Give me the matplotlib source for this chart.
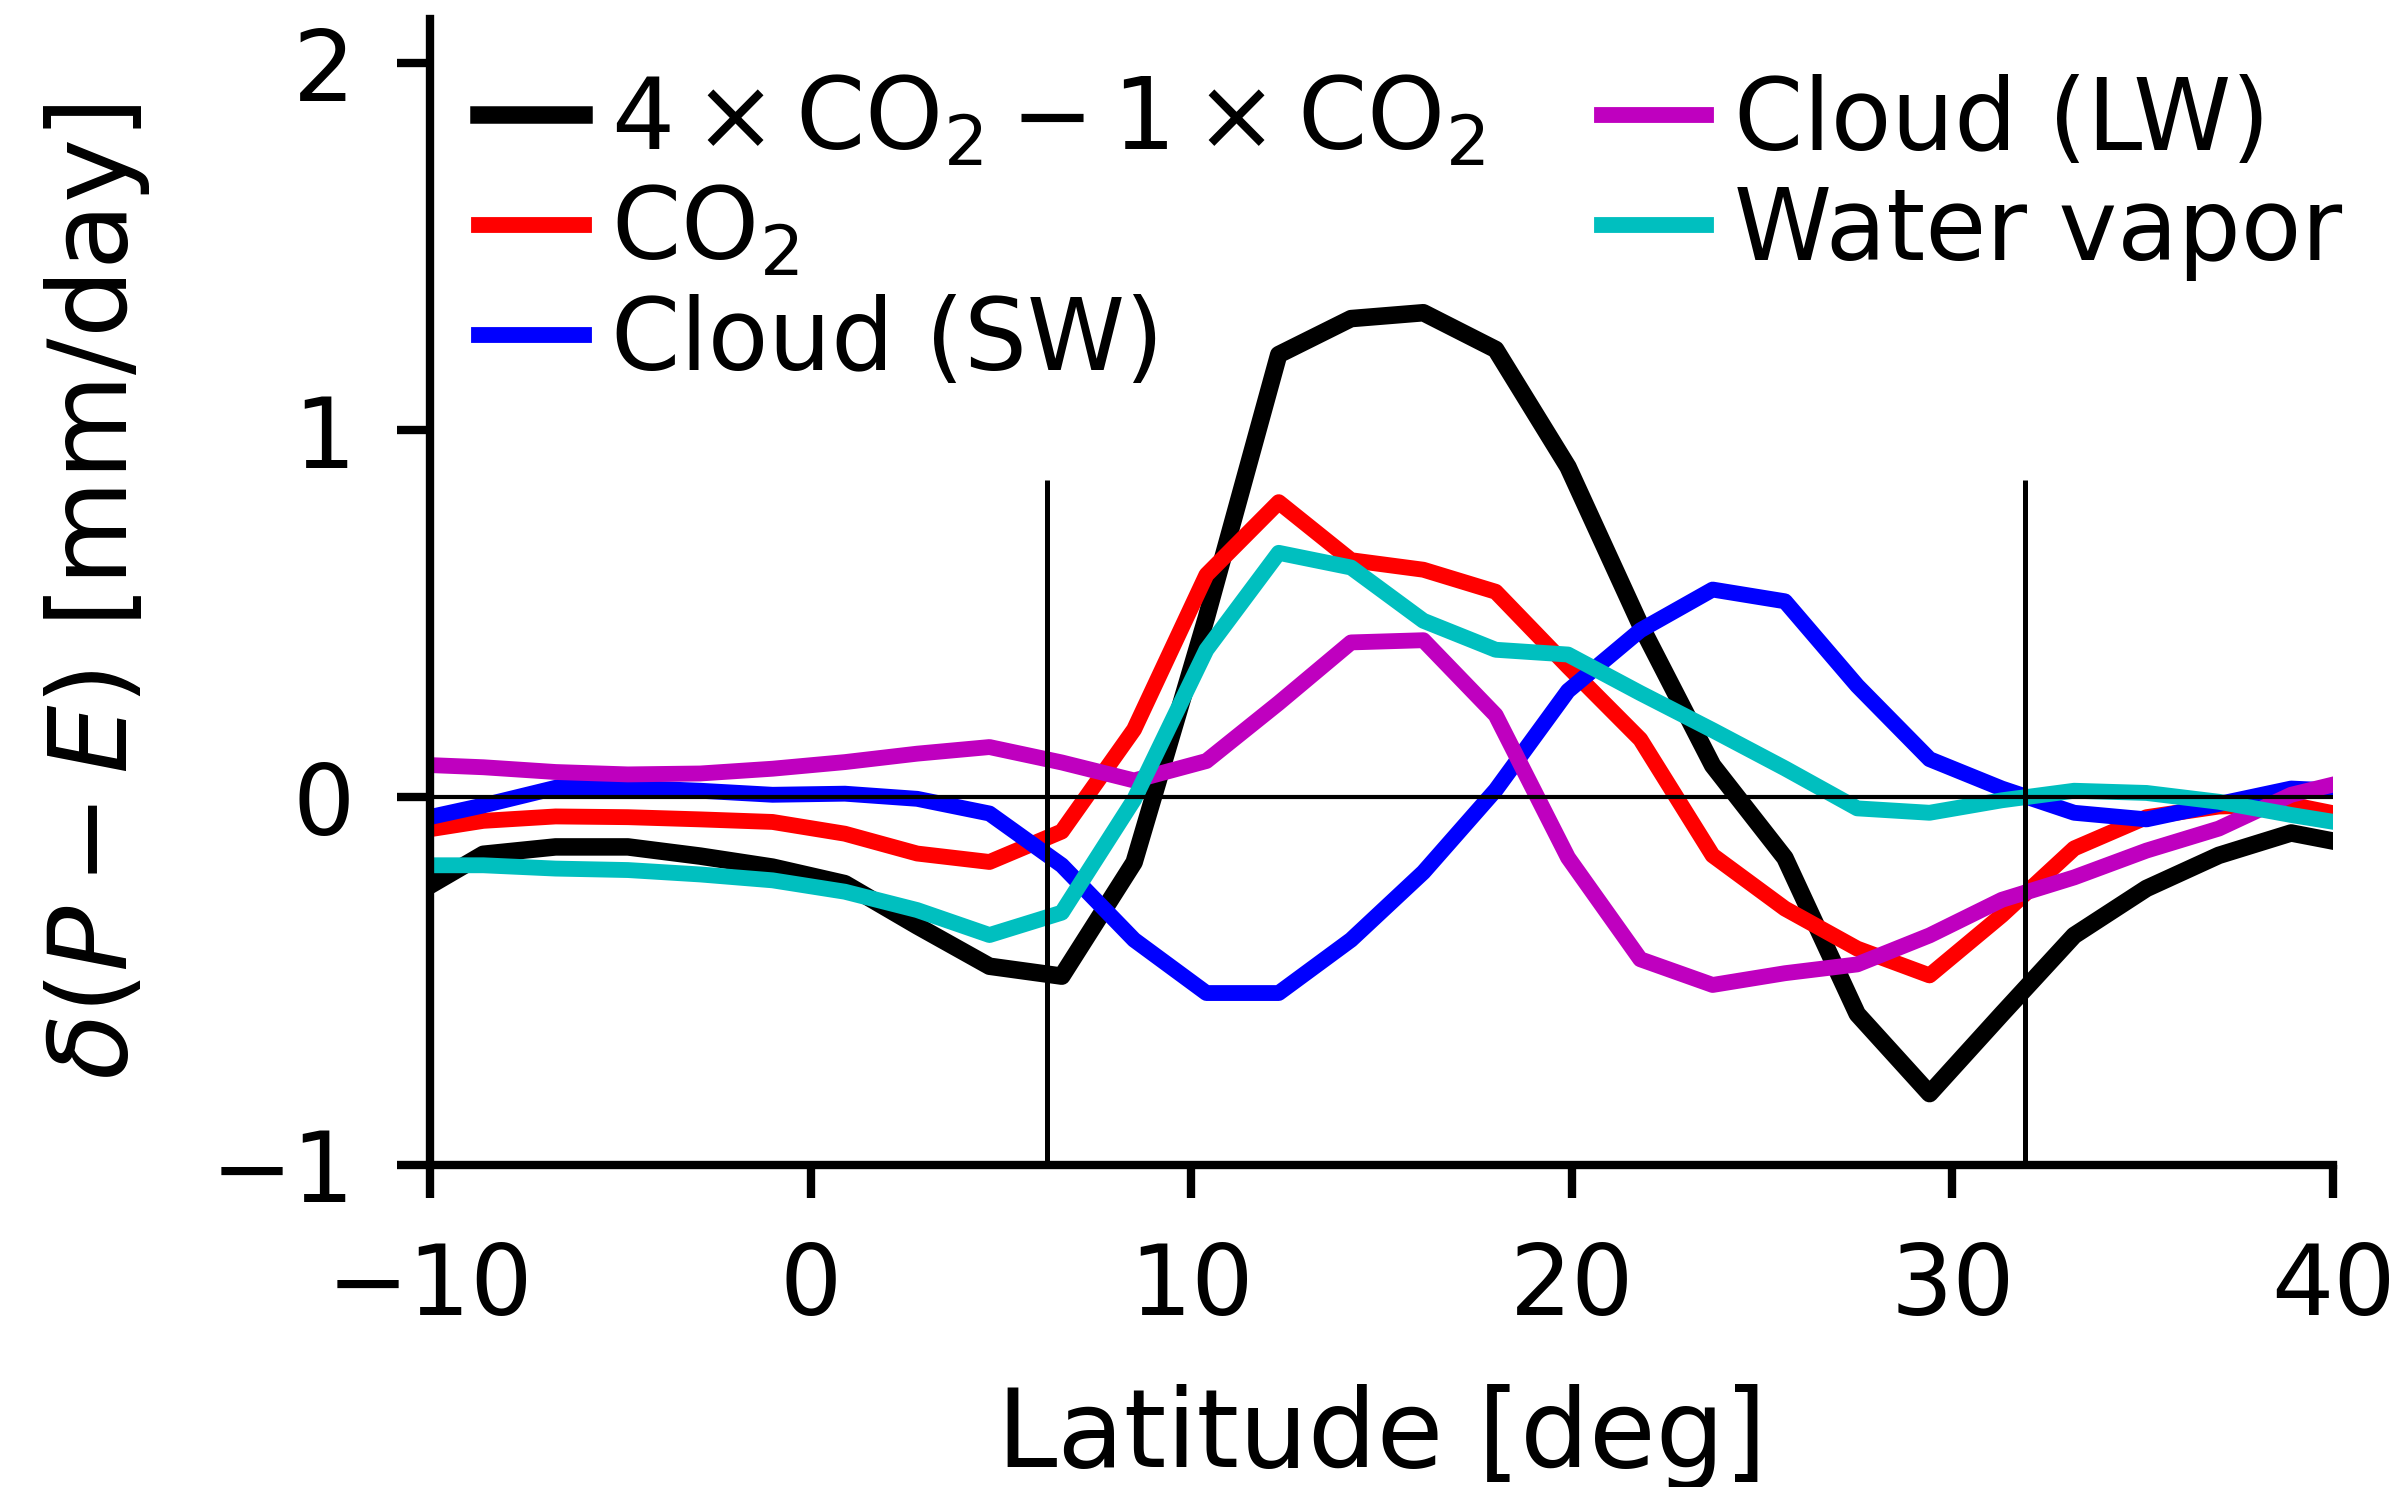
import matplotlib
matplotlib.use("Agg")
from matplotlib import pyplot as plt

# latitude grid [deg]
lat = [-10.5, -8.6, -6.7, -4.8, -2.9, -1.0, 0.9, 2.8, 4.7, 6.6, 8.5, 10.4, 12.3, 14.2,
       16.1, 18.0, 19.9, 21.8, 23.7, 25.6, 27.5, 29.4, 31.3, 33.2, 35.1, 37.0, 38.9, 40.8]

# delta(P-E) [mm/day]
total = [-0.27, -0.155, -0.135, -0.135, -0.16, -0.19, -0.235, -0.35, -0.46, -0.487,
         -0.177, 0.49, 1.206, 1.304, 1.32, 1.22, 0.90, 0.47, 0.087, -0.165, -0.59,
         -0.807, -0.59, -0.376, -0.248, -0.158, -0.097, -0.135]
co2 = [-0.095, -0.064, -0.052, -0.054, -0.06, -0.067, -0.099, -0.153, -0.176, -0.093,
       0.185, 0.606, 0.804, 0.646, 0.62, 0.56, 0.356, 0.158, -0.158, -0.303, -0.412,
       -0.485, -0.321, -0.139, -0.054, -0.025, -0.02, -0.06]
cloud_sw = [-0.065, -0.022, 0.026, 0.026, 0.018, 0.007, 0.01, -0.004, -0.044, -0.185,
            -0.388, -0.533, -0.533, -0.388, -0.204, 0.02, 0.29, 0.455, 0.566, 0.534,
            0.304, 0.104, 0.024, -0.042, -0.06, -0.018, 0.024, 0.015]
cloud_lw = [0.09, 0.082, 0.069, 0.0625, 0.065, 0.078, 0.096, 0.119, 0.137, 0.095,
            0.046, 0.099, 0.257, 0.422, 0.428, 0.224, -0.164, -0.441, -0.511, -0.479,
            -0.455, -0.376, -0.279, -0.218, -0.145, -0.085, 0.007, 0.055]
wv = [-0.185, -0.185, -0.194, -0.198, -0.21, -0.226, -0.257, -0.307, -0.375, -0.314,
      -0.006, 0.402, 0.666, 0.626, 0.481, 0.402, 0.389, 0.284, 0.183, 0.079, -0.03,
      -0.042, -0.008, 0.018, 0.012, -0.012, -0.048, -0.08]

efe_lat = [6.2, 31.9]
efe_top = 0.865

fig = plt.figure(figsize=(2407 / 300, 1487 / 300), dpi=300)
ax = fig.add_axes([430 / 2407, 1 - 1164.5 / 1487, 1903 / 2407, 1145.5 / 1487])

ax.plot(lat, total, color='k', lw=4.2, label=r'$4\times\mathrm{CO_2}-1\times\mathrm{CO_2}$')
ax.plot(lat, co2, color='r', lw=3.8, label=r'CO$_2$')
ax.plot(lat, cloud_sw, color='b', lw=3.8, label='Cloud (SW)')
ax.plot(lat, cloud_lw, color='m', lw=3.8, label='Cloud (LW)')
ax.plot(lat, wv, color='c', lw=3.8, label='Water vapor')

ax.axhline(0, color='k', lw=1.0)
ax.vlines(efe_lat, -1, efe_top, color='k', lw=1.2)

ax.set_xlim(-10, 40)
ax.set_ylim(-1, 2.12)
ax.set_xticks([-10, 0, 10, 20, 30, 40])
ax.set_yticks([-1, 0, 1, 2])
ax.spines['top'].set_visible(False)
ax.spines['right'].set_visible(False)
ax.spines['left'].set_linewidth(2)
ax.spines['bottom'].set_linewidth(2)
ax.tick_params(direction='out', length=8, width=2, pad=10, labelsize=23.5)

ax.set_xlabel('Latitude [deg]', fontsize=26, labelpad=12)
ax.set_ylabel(r'$\delta(P-E)$ [mm/day]', fontsize=26, labelpad=14)

ax.legend(loc='upper left', bbox_to_anchor=(0.026, 0.952), ncol=2, frameon=False,
          fontsize=23.8, borderaxespad=0, borderpad=0, handlelength=1.05,
          handletextpad=0.28, columnspacing=1.18, labelspacing=0.13)

fig.savefig('out.png', dpi=300)
